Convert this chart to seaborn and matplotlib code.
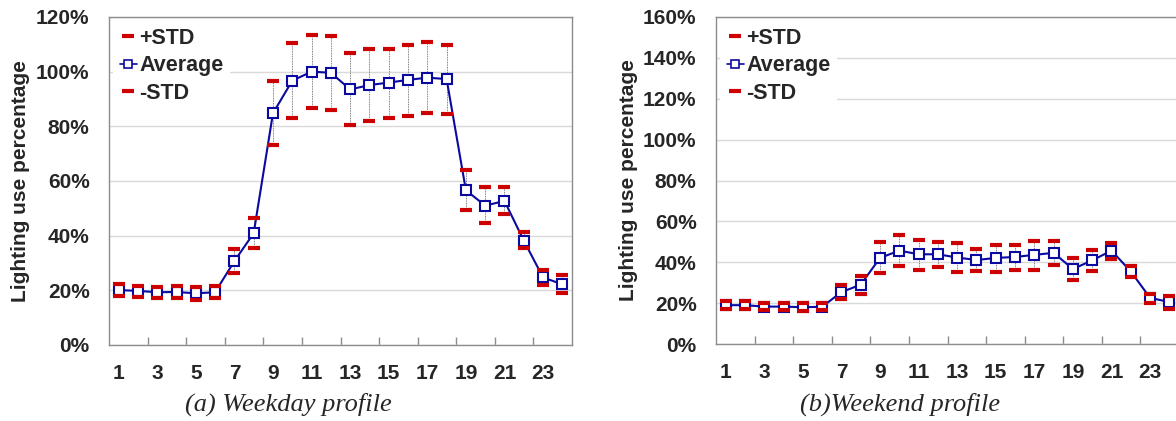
"""
Hourly lighting use profiles (weekday / weekend) with +/- STD markers.
"""

import matplotlib
matplotlib.use('Agg')
import matplotlib.pyplot as plt
import matplotlib.ticker as mticker
from matplotlib.lines import Line2D
import seaborn as sns
import pandas as pd

# hours of the day
hours = list(range(1, 25))

# weekday profile (%)
weekday_avg = [20.1, 19.8, 19.3, 19.4, 18.9, 19.3, 30.7, 40.9, 84.8, 96.7, 100.0, 99.6,
               93.5, 95.1, 96.0, 97.0, 97.8, 97.3, 56.6, 51.0, 52.7, 38.2, 24.7, 22.2]
weekday_plus = [22.2, 21.6, 21.3, 21.6, 21.1, 21.6, 35.1, 46.6, 96.6, 110.4, 113.4, 113.2,
                106.7, 108.4, 108.4, 109.8, 110.9, 109.8, 63.9, 57.7, 57.7, 41.5, 27.3, 25.6]
weekday_minus = [18.0, 17.6, 17.1, 17.3, 16.5, 17.1, 26.2, 35.4, 73.1, 82.9, 86.6, 86.0,
                 80.4, 82.0, 83.2, 83.9, 84.8, 84.5, 49.4, 44.5, 47.8, 35.4, 22.0, 18.9]

# weekend profile (%)
weekend_avg = [19.0, 19.0, 18.3, 18.3, 18.0, 18.2, 25.4, 29.0, 42.1, 45.7, 43.9, 43.9,
               42.3, 41.1, 42.1, 42.6, 43.6, 44.6, 36.7, 40.9, 45.7, 35.5, 22.6, 20.5]
weekend_plus = [20.9, 21.0, 20.3, 20.3, 19.9, 20.2, 28.7, 33.1, 49.9, 53.4, 51.0, 50.0,
                49.3, 46.7, 48.5, 48.5, 50.6, 50.3, 42.1, 46.2, 49.5, 38.0, 24.6, 23.7]
weekend_minus = [17.1, 17.0, 16.4, 16.5, 16.1, 16.4, 22.1, 24.7, 34.5, 38.2, 36.4, 37.8,
                 35.4, 35.9, 35.0, 36.4, 36.4, 38.7, 31.3, 35.7, 41.8, 32.8, 20.3, 17.1]

x_labels = [str(h) for h in range(1, 24, 2)]
captions = ['(a) Weekday profile', '(b)Weekend profile']

sns.set_theme(style='white')
plt.rcParams['font.family'] = ['Liberation Sans', 'DejaVu Sans']

BLUE = '#0a0aa0'
RED = '#cc0000'
GRID = '#d9d9d9'
SPINE = '#8c8c8c'
FS = 15

fig = plt.figure(figsize=(11.76, 4.21), dpi=100)
W, H = 1176, 421


def add_axes(x0, x1, y0, y1):
    return fig.add_axes([x0 / W, 1 - y1 / H, (x1 - x0) / W, (y1 - y0) / H])


def draw_profile(ax, avg, plus, minus, ymax):
    df = pd.DataFrame({'hour': hours, 'avg': avg, 'plus': plus, 'minus': minus})

    # high-low lines
    ax.vlines(df['hour'], df['minus'], df['plus'], colors='#555555',
              linestyles=(0, (1, 1)), linewidth=0.6, zorder=2)
    sns.lineplot(data=df, x='hour', y='avg', ax=ax, color=BLUE, linewidth=1.5,
                 marker='s', markersize=6.5, markerfacecolor='white',
                 markeredgecolor=BLUE, markeredgewidth=1.5, zorder=3)
    cap_kw = dict(color=RED, marker='_', linestyle='none', markersize=8,
                  markeredgewidth=3, markeredgecolor=RED, zorder=4)
    sns.lineplot(data=df, x='hour', y='plus', ax=ax, **cap_kw)
    sns.lineplot(data=df, x='hour', y='minus', ax=ax, **cap_kw)

    ax.set_xlim(0.5, 24.5)
    ax.set_ylim(0, ymax)
    ax.yaxis.set_major_locator(mticker.MultipleLocator(20))
    ax.yaxis.set_major_formatter(mticker.FuncFormatter(lambda v, p: f'{v:.0f}%'))
    ax.grid(axis='y', color=GRID, linewidth=1)
    ax.grid(axis='x', visible=False)

    # category labels at odd hours, tick marks between categories
    ax.set_xticks(range(1, 24, 2))
    ax.set_xticklabels(x_labels)
    ax.set_xticks([h + 0.5 for h in range(2, 24, 2)], minor=True)
    ax.tick_params(axis='x', which='major', length=0, pad=14)
    ax.tick_params(axis='x', which='minor', direction='in', length=6,
                   width=1, color=SPINE, bottom=True)
    ax.tick_params(axis='y', length=0, pad=14)
    for lab in ax.get_xticklabels() + ax.get_yticklabels():
        lab.set_fontsize(FS)
        lab.set_fontweight('bold')

    for s in ax.spines.values():
        s.set_color(SPINE)
        s.set_linewidth(1)

    ax.set_xlabel('')
    ax.set_ylabel('Lighting use percentage', fontsize=FS, fontweight='bold', labelpad=4)

    handles = [
        Line2D([], [], color=RED, marker='_', linestyle='none', markersize=8,
               markeredgewidth=3, markeredgecolor=RED),
        Line2D([], [], color=BLUE, marker='s', linewidth=1.2, markersize=6,
               markerfacecolor='white', markeredgecolor=BLUE, markeredgewidth=1.2),
        Line2D([], [], color=RED, marker='_', linestyle='none', markersize=8,
               markeredgewidth=3, markeredgecolor=RED),
    ]
    leg = ax.legend(handles, ['+STD', 'Average', '-STD'], loc='upper left',
                    bbox_to_anchor=(0.0, 1.0), frameon=True, facecolor='white',
                    edgecolor='none', framealpha=1, fancybox=False,
                    prop={'size': FS + 0.5, 'weight': 'bold'}, handlelength=0.8,
                    handletextpad=0.1, labelspacing=0.3, borderpad=0.3,
                    borderaxespad=0.2)
    leg.set_zorder(6)


ax1 = add_axes(109, 572, 17, 345)
draw_profile(ax1, weekday_avg, weekday_plus, weekday_minus, 120)

ax2 = add_axes(716, 1179, 17, 344)
draw_profile(ax2, weekend_avg, weekend_plus, weekend_minus, 160)

for xpix, text in zip([288, 900], captions):
    fig.text(xpix / W, 1 - 404 / H, text, ha='center', va='center',
             fontsize=19, style='italic', family=['Liberation Serif', 'DejaVu Serif'])

fig.savefig('out.png', dpi=100)
